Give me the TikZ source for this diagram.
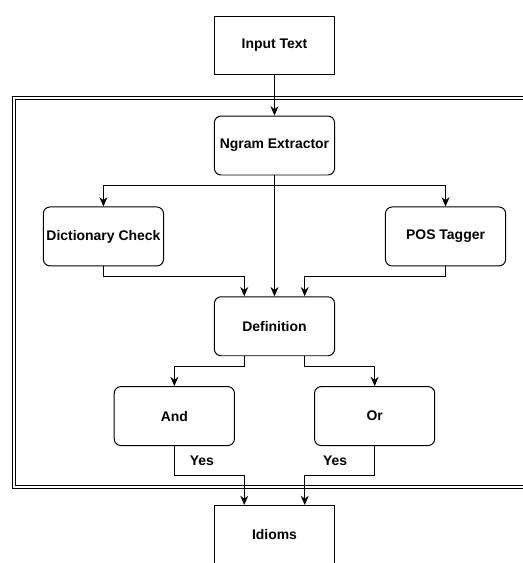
\documentclass[tikz,border=0pt]{standalone}
\usepackage{fontspec}
\setmainfont{Liberation Sans}
\usetikzlibrary{positioning,arrows.meta,calc}

\begin{document}
\begin{tikzpicture}[
    >=Stealth,
    every node/.style={font=\fontsize{10.5}{12}\selectfont\bfseries},
    box/.style={draw, line width=0.75pt, minimum width=3.18cm, minimum height=1.56cm, inner sep=2pt, text centered},
    plainbox/.style={box},
    roundbox/.style={box, rounded corners=5pt},
    flowarrow/.style={line width=0.75pt, black, -{Stealth[length=7pt,width=6pt]}},
    groupframe/.style={draw, line width=0.75pt, double, double distance=1.3pt},
]

% ---- Page area ----
\useasboundingbox (-7.263,1.204) rectangle (6.575,-13.693);
\clip (-7.263,1.204) rectangle (6.575,-13.693);

% ---- Top: input and extractor ----
\node[plainbox] (input) at (0,0) {Input Text};
\node[roundbox, below=1.06cm of input] (ngram) {Ngram Extractor};

% ---- Checks ----
\node[roundbox, below left=0.82cm and 1.32cm of ngram] (dict) {Dictionary Check};
\node[roundbox, below right=0.82cm and 1.32cm of ngram] (pos) {POS Tagger};

% ---- Definition ----
\coordinate (midrow) at (ngram |- dict.south);
\node[roundbox, below=0.79cm of midrow] (defn) {Definition};

% ---- Rules ----
\node[roundbox, below=0.79cm of defn, xshift=-2.65cm] (andbox) {And};
\node[roundbox, below=0.79cm of defn, xshift=2.65cm] (orbox) {Or};

% ---- Output ----
\coordinate (lowrow) at (defn |- andbox.south);
\node[plainbox, below=1.56cm of lowrow] (idioms) {Idioms};

% ---- Group frame (runs off the right edge) ----
\draw[groupframe] (-6.885,-1.384) rectangle (7.4,-11.674);

% ---- Connectors ----
\draw[flowarrow] (input) -- (ngram);
\draw[flowarrow] (ngram.south) -- ++(0,-0.26) -| (dict.north);
\draw[flowarrow] (ngram.south) -- ++(0,-0.26) -| (pos.north);
\draw[flowarrow] (ngram) -- (defn);
\draw[flowarrow] (dict.south) -- ++(0,-0.26) -| ([xshift=-0.8cm]defn.north);
\draw[flowarrow] (pos.south) -- ++(0,-0.26) -| ([xshift=0.8cm]defn.north);
\draw[flowarrow] ([xshift=-0.8cm]defn.south) -- ++(0,-0.26) -| (andbox.north);
\draw[flowarrow] ([xshift=0.8cm]defn.south) -- ++(0,-0.26) -| (orbox.north);
\draw[flowarrow] (andbox.south) -- ++(0,-0.79) node[midway, right=8pt] {Yes} -| ([xshift=-0.8cm]idioms.north);
\draw[flowarrow] (orbox.south) -- ++(0,-0.79) node[midway, left=17pt] {Yes} -| ([xshift=0.8cm]idioms.north);

\end{tikzpicture}
\end{document}
